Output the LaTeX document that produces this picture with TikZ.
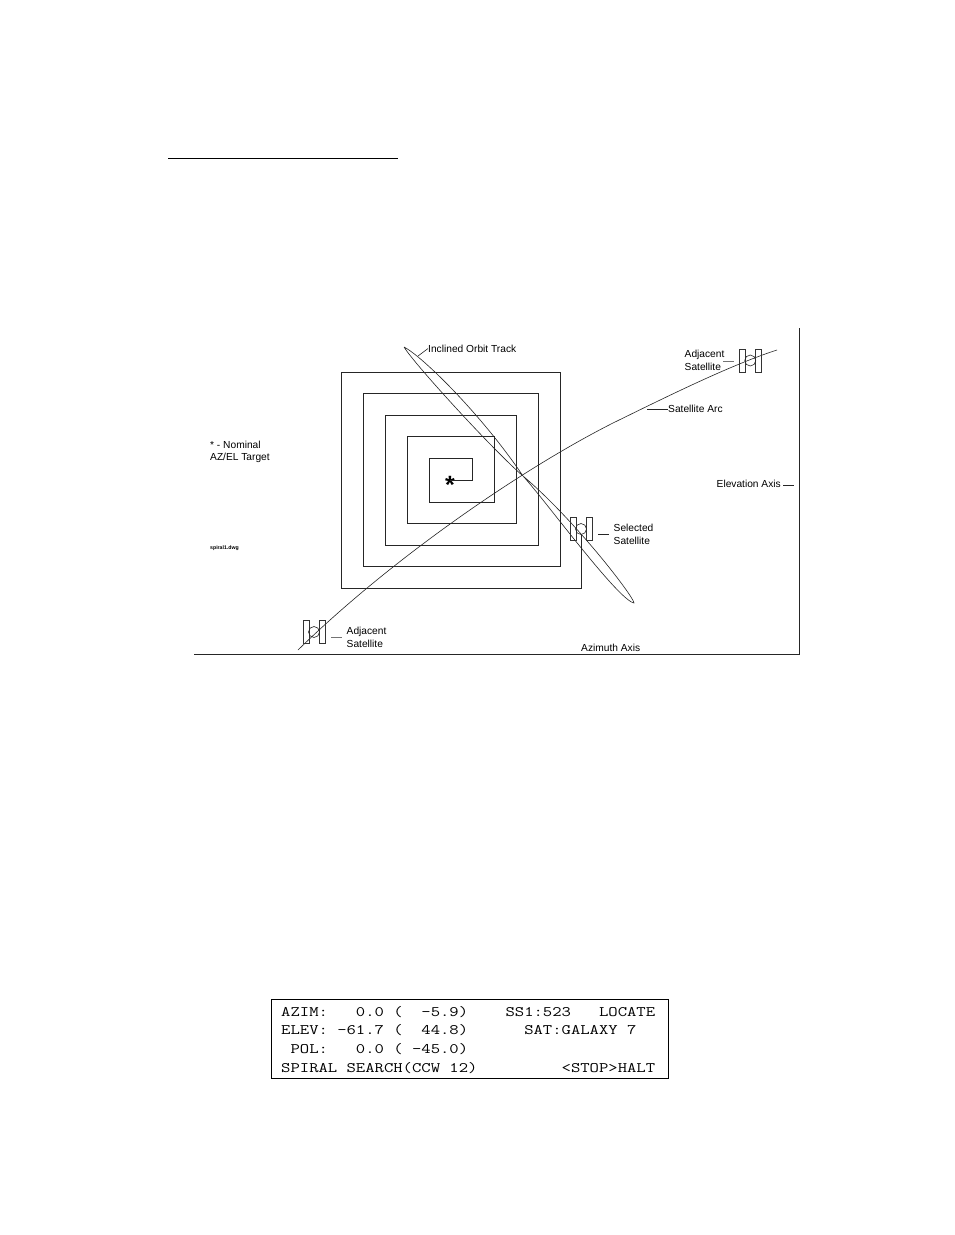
\documentclass[tikz,border=0pt]{standalone}
\usepackage{fontspec}
\setmainfont{Liberation Sans}
\newfontfamily\lcdfont[FakeStretch=1.252]{Latin Modern Mono}
\tikzset{
  x=1pt,y=-1pt,
  ln/.style={line width=0.6pt,black!85},
  lbl/.style={inner sep=0pt,anchor=west,align=left,font=\fontsize{10.2}{12.7}\selectfont,text=black},
  lcd/.style={inner sep=0pt,anchor=base west,font=\lcdfont\fontsize{14.5}{18}\selectfont,text=black},
  pane/.style={draw,line width=0.6pt,black!80,minimum width=6pt,minimum height=23pt,inner sep=0pt},
  bus/.style={draw,circle,line width=0.6pt,black!85,minimum size=11pt,inner sep=0pt},
}
\newcommand{\satellite}[4]{% name, left pane x, right pane x, centre y (circle x is mid)
  \node[pane] (#1l) at (#2,#4) {};
  \node[pane] (#1r) at (#3,#4) {};
  \path (#1l) -- (#1r) node[midway,bus] (#1c) {};
}
\begin{document}
\begin{tikzpicture}
\useasboundingbox[fill=white] (0,0) rectangle (954,1235);

% heading rule
\coordinate (ruleA) at (168,158);
\coordinate (ruleB) at (398,158);
\draw[line width=0.8pt,black] (ruleA) -- (ruleB);

% axes
\coordinate (axTop) at (799,328);
\coordinate (axCorner) at (799,654.5);
\coordinate (axLeft) at (194,654.5);
\draw[ln] (axTop) -- (axCorner) -- (axLeft);

% star and spiral
\node[inner sep=0pt,font=\bfseries\fontsize{25}{25}\selectfont] (star) at (450,484.5) {*};
\coordinate (starEnd) at (450,480);
\node[bus,draw=none] (selHold) at (581,529) {};
\draw[ln] (starEnd) -- (472,480) -- (472,458.5) -- (429,458.5) -- (429,502) -- (494,502)
  -- (494,436.5) -- (407,436.5) -- (407,523.5) -- (516,523.5) -- (516,415) -- (385,415)
  -- (385,545) -- (538,545) -- (538,393) -- (363,393) -- (363,566.5) -- (560,566.5)
  -- (560,372) -- (341,372) -- (341,588) -- (581,588) -- (selHold.south);

% inclined orbit track (figure of eight)
\coordinate (tipA) at (404,347);
\coordinate (tipB) at (634,603);
\coordinate (cross) at (523,476);
\draw[ln] (tipA) .. controls (422,356) and (482,415) .. (cross)
  .. controls (545,500) and (618,600) .. (tipB)
  .. controls (634,597) and (575,520) .. (cross)
  .. controls (495,452) and (415,365) .. (tipA);

% satellite arc
\coordinate (arcA) at (298,650);
\coordinate (arcM) at (613,423);
\coordinate (arcB) at (777,350);
\draw[ln] (arcA) .. controls (390,560) and (520,470) .. (arcM)
  .. controls (660,400) and (730,365) .. (arcB);

% satellites
\satellite{adjB}{306}{322}{632}
\satellite{sel}{573}{589}{529}
\satellite{adjT}{742}{758.5}{360.5}

% labels
\node[lbl] (lNom) at (210,452) {* - Nominal\\AZ/EL Target};
\node[lbl,font=\bfseries\fontsize{5.2}{6}\selectfont] (lDwg) at (210,548) {spiral1.dwg};
\node[lbl] (lOrbit) at (428,348.5) {Inclined Orbit Track};
\node[lbl] (lAdjT) at (684.5,360) {Adjacent\\Satellite};
\node[lbl] (lArc) at (668,409) {Satellite Arc};
\node[lbl] (lSel) at (613.5,534) {Selected\\Satellite};
\node[lbl] (lElev) at (716.5,484) {Elevation Axis};
\node[lbl] (lAdjB) at (346.5,637.5) {Adjacent\\Satellite};
\node[lbl] (lAz) at (581,648) {Azimuth Axis};

% leaders
\coordinate (oT) at (418,356);
\draw[ln] (oT) -- (lOrbit.west);
\draw[ln] (lArc.west) -- (647,409);
\coordinate (eA) at (783,485); \coordinate (eB) at (794,485);
\draw[ln] (eA) -- (eB);
\coordinate (aT1) at (723,361); \coordinate (aT2) at (734,361);
\draw[ln,black!55] (aT1) -- (aT2);
\coordinate (s1) at (598,534); \coordinate (s2) at (609,534);
\draw[ln] (s1) -- (s2);
\coordinate (b1) at (331,637); \coordinate (b2) at (342,637);
\draw[ln,black!55] (b1) -- (b2);

% display
\node[draw,line width=0.7pt,black,minimum width=396.5pt,minimum height=78.5pt,inner sep=0pt] (screen) at (469.75,1039) {};
\draw[line width=1.4pt,black] (screen.north east) -- (screen.south east) -- (screen.south west);
\node[lcd] (row1) at (281,1016) {AZIM:~~~0.0~(~~-5.9)~~~~SS1:523~~~LOCATE};
\node[lcd] (row2) at (281,1034.7) {ELEV:~-61.7~(~~44.8)~~~~~~SAT:GALAXY~7};
\node[lcd] (row3) at (281,1053.4) {~POL:~~~0.0~(~-45.0)};
\node[lcd] (row4) at (281,1072.1) {SPIRAL~SEARCH(CCW~12)~~~~~~~~~<STOP>HALT};
\end{tikzpicture}
\end{document}
